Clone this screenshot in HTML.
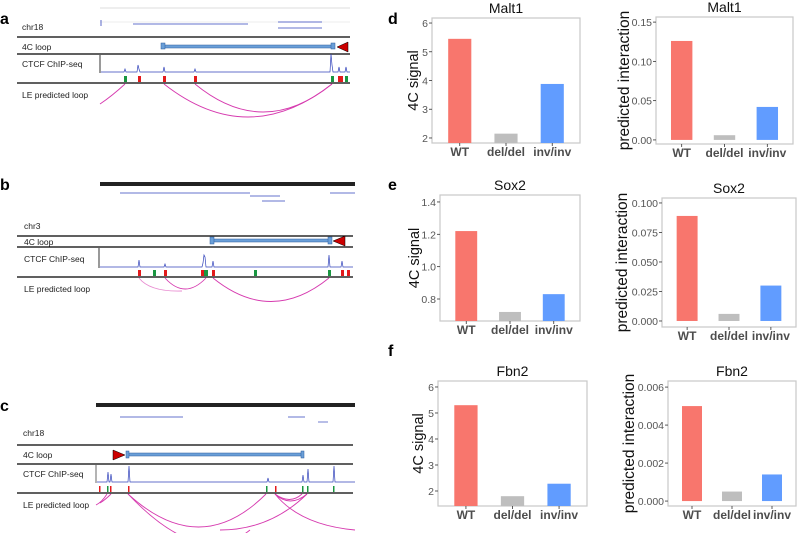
<!DOCTYPE html>
<html><head><meta charset="utf-8">
<style>
body{margin:0;background:#fff;}
svg{display:block;font-family:"Liberation Sans",Arial,sans-serif;}
</style></head>
<body>
<svg id="fig" width="797" height="533" viewBox="0 0 797 533">
<!-- Panel a -->
<g font-size="8.5">
  <text x="0" y="24" font-size="16" font-weight="bold">a</text>
  <line x1="100" y1="8" x2="350" y2="8" stroke="#bbb" stroke-width="0.6"/>
  <line x1="100" y1="22" x2="350" y2="22" stroke="#ddd" stroke-width="0.5"/>
  <g stroke="#3344bb" stroke-width="0.8">
    <line x1="133" y1="24" x2="248" y2="24"/><line x1="278" y1="22" x2="322" y2="22"/><line x1="278" y1="28" x2="322" y2="28"/>
    <line x1="101" y1="20" x2="101" y2="26"/>
  </g>
  <text x="22" y="30" fill="#222">chr18</text>
  <line x1="17" y1="37" x2="350" y2="37" stroke="#000" stroke-width="1.2"/>
  <text x="22" y="50" fill="#222">4C loop</text>
  <rect x="163" y="45" width="170" height="3" fill="#6a9fd8" stroke="#2e5d9c" stroke-width="0.5"/>
  <rect x="161" y="43" width="4" height="6" fill="#6a9fd8" stroke="#2e5d9c" stroke-width="0.5"/>
  <rect x="331" y="43" width="4" height="6" fill="#6a9fd8" stroke="#2e5d9c" stroke-width="0.5"/>
  <polygon points="337,47 348,42 348,52" fill="#c00" stroke="#000" stroke-width="0.5"/>
  <line x1="17" y1="54" x2="350" y2="54" stroke="#000" stroke-width="1.2"/>
  <text x="22" y="67" fill="#222">CTCF ChIP-seq</text>
  <line x1="100" y1="55" x2="100" y2="73" stroke="#000" stroke-width="0.8"/>
  <path d="M101 72 H124 l1-3 l1 3 H137 l1-7 l1 4 l1 3 H163 l1-5 l1 5 H194 l1-3 l1 3 H330 l1-18 l1 11 l1 7 H338 l1-5 l1 5 H345 l1-5 l1 5 H350" fill="none" stroke="#3344bb" stroke-width="0.7"/>
  <g>
    <rect x="124" y="76" width="3" height="6" fill="#1a9641"/><rect x="138" y="76" width="3" height="6" fill="#e31a1c"/>
    <rect x="163" y="76" width="3" height="6" fill="#e31a1c"/><rect x="194" y="76" width="3" height="6" fill="#e31a1c"/>
    <rect x="331" y="76" width="3" height="6" fill="#1a9641"/><rect x="338" y="76" width="5" height="6" fill="#e31a1c"/>
    <rect x="345" y="76" width="3" height="6" fill="#1a9641"/>
  </g>
  <line x1="17" y1="83" x2="350" y2="83" stroke="#000" stroke-width="1.2"/>
  <text x="22" y="98" fill="#222">LE predicted loop</text>
  <g fill="none" stroke="#d63aaf" stroke-width="0.9">
    <path d="M125 84 Q112 96 100 104"/><path d="M164 84 Q248 150 332 84"/><path d="M195 84 Q263 140 332 84"/>
  </g>
</g>
<!-- Panel b -->
<g font-size="8.5">
  <text x="0" y="190" font-size="16" font-weight="bold">b</text>
  <rect x="100" y="182" width="255" height="4" fill="#222"/>
  <g stroke="#3344bb" stroke-width="0.7">
    <line x1="120" y1="193" x2="250" y2="193"/><line x1="250" y1="196" x2="280" y2="196"/><line x1="262" y1="201" x2="285" y2="201"/><line x1="330" y1="193" x2="355" y2="193"/>
  </g>
  <text x="24" y="229" fill="#222">chr3</text>
  <line x1="17" y1="236" x2="353" y2="236" stroke="#000" stroke-width="1.2"/>
  <text x="24" y="245" fill="#222">4C loop</text>
  <rect x="212" y="239" width="118" height="3" fill="#6a9fd8" stroke="#2e5d9c" stroke-width="0.5"/>
  <rect x="210" y="237" width="4" height="7" fill="#6a9fd8" stroke="#2e5d9c" stroke-width="0.5"/>
  <rect x="328" y="237" width="4" height="7" fill="#6a9fd8" stroke="#2e5d9c" stroke-width="0.5"/>
  <polygon points="333,241 345,236 345,246" fill="#c00" stroke="#000" stroke-width="0.5"/>
  <line x1="17" y1="247" x2="353" y2="247" stroke="#000" stroke-width="1.2"/>
  <text x="24" y="262" fill="#222">CTCF ChIP-seq</text>
  <line x1="99" y1="248" x2="99" y2="268" stroke="#000" stroke-width="0.8"/>
  <path d="M100 267 H138 l1-7 l1 7 H164 l1-3 l1 3 H202 l1-4 l1-8 l1 2 l1 10 H212 l1-6 l1 6 H328 l1-12 l1 12 H341 l1-6 l1 6 H353" fill="none" stroke="#3344bb" stroke-width="0.7"/>
  <g>
    <rect x="138" y="270" width="3" height="6" fill="#e31a1c"/><rect x="153" y="270" width="3" height="6" fill="#1a9641"/>
    <rect x="164" y="270" width="3" height="6" fill="#e31a1c"/><rect x="201" y="270" width="3" height="6" fill="#e31a1c"/>
    <rect x="204" y="270" width="4" height="6" fill="#1a9641"/><rect x="212" y="270" width="3" height="6" fill="#e31a1c"/>
    <rect x="254" y="270" width="3" height="6" fill="#1a9641"/><rect x="328" y="270" width="3" height="6" fill="#1a9641"/>
    <rect x="341" y="270" width="3" height="6" fill="#e31a1c"/><rect x="347" y="270" width="3" height="6" fill="#e31a1c"/>
  </g>
  <line x1="17" y1="277" x2="353" y2="277" stroke="#000" stroke-width="1.2"/>
  <text x="24" y="292" fill="#222">LE predicted loop</text>
  <g fill="none" stroke-width="0.9">
    <path d="M139 278 Q150 292 182 291" stroke="#e88ad0"/><path d="M165 278 Q185 300 206 278" stroke="#d63aaf"/><path d="M213 278 Q271 325 329 278" stroke="#d63aaf"/>
  </g>
</g>
<!-- Panel c -->
<g font-size="8.5">
  <text x="0" y="411" font-size="16" font-weight="bold">c</text>
  <rect x="96" y="403" width="259" height="4" fill="#222"/>
  <g stroke="#3344bb" stroke-width="0.7">
    <line x1="120" y1="417" x2="183" y2="417"/><line x1="288" y1="417" x2="305" y2="417"/><line x1="318" y1="422" x2="328" y2="422"/>
  </g>
  <text x="23" y="436" fill="#222">chr18</text>
  <line x1="17" y1="445" x2="353" y2="445" stroke="#000" stroke-width="1.2"/>
  <text x="23" y="458" fill="#222">4C loop</text>
  <polygon points="125,455 113,450 113,460" fill="#c00" stroke="#000" stroke-width="0.5"/>
  <rect x="127" y="453" width="176" height="3" fill="#6a9fd8" stroke="#2e5d9c" stroke-width="0.5"/>
  <rect x="126" y="451" width="3" height="7" fill="#6a9fd8" stroke="#2e5d9c" stroke-width="0.5"/>
  <rect x="301" y="451" width="3" height="7" fill="#6a9fd8" stroke="#2e5d9c" stroke-width="0.5"/>
  <line x1="17" y1="464" x2="353" y2="464" stroke="#000" stroke-width="1.2"/>
  <text x="23" y="477" fill="#222">CTCF ChIP-seq</text>
  <line x1="96" y1="465" x2="96" y2="483" stroke="#444" stroke-width="0.8"/>
  <path d="M97 482 H107 l1-10 l1 10 H110 l1-8 l1 8 H128 l1-16 l1 16 H267 l1-4 l1 4 H302 l1-7 l1 7 H307 l1-13 l1 13 H333 l1-16 l1 16 H355" fill="none" stroke="#3344bb" stroke-width="0.7"/>
  <g>
    <rect x="99" y="486" width="1.5" height="6" fill="#e31a1c"/><rect x="107" y="486" width="1.5" height="6" fill="#1a9641"/>
    <rect x="110" y="486" width="1.5" height="6" fill="#e31a1c"/><rect x="128" y="486" width="1.5" height="6" fill="#e31a1c"/>
    <rect x="266" y="486" width="1.5" height="6" fill="#1a9641"/><rect x="275" y="486" width="1.5" height="6" fill="#e31a1c"/>
    <rect x="302" y="486" width="1.5" height="6" fill="#1a9641"/><rect x="307" y="486" width="1.5" height="6" fill="#1a9641"/>
    <rect x="333" y="486" width="1.5" height="6" fill="#1a9641"/>
  </g>
  <line x1="17" y1="493" x2="353" y2="493" stroke="#000" stroke-width="1.2"/>
  <text x="23" y="508" fill="#222">LE predicted loop</text>
  <g fill="none" stroke="#d63aaf" stroke-width="0.9">
    <path d="M107 494 Q102 502 96 505"/><path d="M111 494 Q105 500 100 503"/>
    <path d="M128 494 Q200 560 266 494"/><path d="M128 494 Q200 570 250 530"/>
    <path d="M275 494 Q290 508 307 494"/><path d="M275 494 Q290 505 302 494"/>
    <path d="M275 494 Q300 525 355 530"/><path d="M307 494 Q270 530 220 530"/>
  </g>
</g>
<text x="388" y="24" font-size="16" font-weight="bold">d</text>
<text x="388" y="190" font-size="16" font-weight="bold">e</text>
<text x="388" y="356" font-size="16" font-weight="bold">f</text>
<g id="charts"></g>
</svg>
<script>
const categories = ["WT", "del/del", "inv/inv"];
const barColors = ["#F8766D", "#BEBEBE", "#619CFF"];
const malt1Signal = [5.45, 2.15, 3.88];
const malt1Pred = [0.126, 0.006, 0.042];
const sox2Signal = [1.22, 0.72, 0.83];
const sox2Pred = [0.089, 0.006, 0.030];
const fbn2Signal = [5.3, 1.8, 2.28];
const fbn2Pred = [0.005, 0.0005, 0.0014];
const malt1SignalTicks = ["2","3","4","5","6"];
const malt1PredTicks = ["0.00","0.05","0.10","0.15"];
const sox2SignalTicks = ["0.8","1.0","1.2","1.4"];
const sox2PredTicks = ["0.000","0.025","0.050","0.075","0.100"];
const fbn2SignalTicks = ["2","3","4","5","6"];
const fbn2PredTicks = ["0.000","0.002","0.004","0.006"];

const NS = "http://www.w3.org/2000/svg";
const root = document.getElementById("charts");
function mk(tag, attrs, parent){ const e=document.createElementNS(NS,tag); for(const k in attrs) e.setAttribute(k,attrs[k]); parent.appendChild(e); return e; }

function chart(name, title, yTitle, values, ticks, box, lo, hi, base, yTitleX){
  const g = mk("g",{},root);
  
  
  const [x0,y0,x1,y1] = box;
  const y = v => y1 - (v-lo)/(hi-lo)*(y1-y0);
  const band = (x1-x0)/3.2;
  const xc = i => x0 + (0.6+i)*band;
  const frame = mk("rect",{x:x0,y:y0,width:x1-x0,height:y1-y0,fill:"#fff",stroke:"#c8c8c8","stroke-width":1.2},g);
  
  
  ticks.forEach(t=>{
    const v=parseFloat(t), yy=y(v);
    mk("line",{x1:x0-3,x2:x0,y1:yy,y2:yy,stroke:"#333","stroke-width":0.8},g);
    const tl = mk("text",{x:x0-4,y:yy+4,"text-anchor":"end","font-size":10.5,fill:"#555"},g);
    tl.textContent=t;
    
    
  });
  values.forEach((v,i)=>{
    const yb = y(base), yv = y(v);
    const r = mk("rect",{x:xc(i)-band*0.25,y:Math.min(yb,yv),width:band*0.5,height:Math.abs(yb-yv),fill:barColors[i]},g);
    
    
    mk("line",{x1:xc(i),x2:xc(i),y1:y1,y2:y1+3,stroke:"#333","stroke-width":0.8},g);
    const xl = mk("text",{x:xc(i),y:y1+13,"text-anchor":"middle","font-size":12,"font-weight":"bold",fill:"#4d4d4d"},g);
    xl.textContent = categories[i];
    
    
  });
  const tt = mk("text",{x:(x0+x1)/2,y:y0-5,"text-anchor":"middle","font-size":14,fill:"#111"},g);
  tt.textContent = title;
  
  
  const yt = mk("text",{x:0,y:0,"text-anchor":"middle","font-size":yTitle==="4C signal"?14.5:15.5,fill:"#111",transform:`translate(${yTitleX},${(y0+y1)/2}) rotate(-90)`},g);
  yt.textContent = yTitle;
  
  
}
chart("malt1-signal-chart","Malt1","4C signal",malt1Signal,malt1SignalTicks,[432,18,580,143],1.825,6.175,1.825,418);
chart("malt1-pred-chart","Malt1","predicted interaction",malt1Pred,malt1PredTicks,[656,17,793,144],-0.0052,0.1565,0,629);
chart("sox2-signal-chart","Sox2","4C signal",sox2Signal,sox2SignalTicks,[440,195,580,321],0.664,1.443,0.664,419);
chart("sox2-pred-chart","Sox2","predicted interaction",sox2Pred,sox2PredTicks,[662,198,796,327],-0.0051,0.1042,0,627);
chart("fbn2-signal-chart","Fbn2","4C signal",fbn2Signal,fbn2SignalTicks,[438,381,587,506],1.423,6.23,1.423,423);
chart("fbn2-pred-chart","Fbn2","predicted interaction",fbn2Pred,fbn2PredTicks,[668,381,796,506],-0.00026,0.00632,0,634);
</script>
</body></html>
